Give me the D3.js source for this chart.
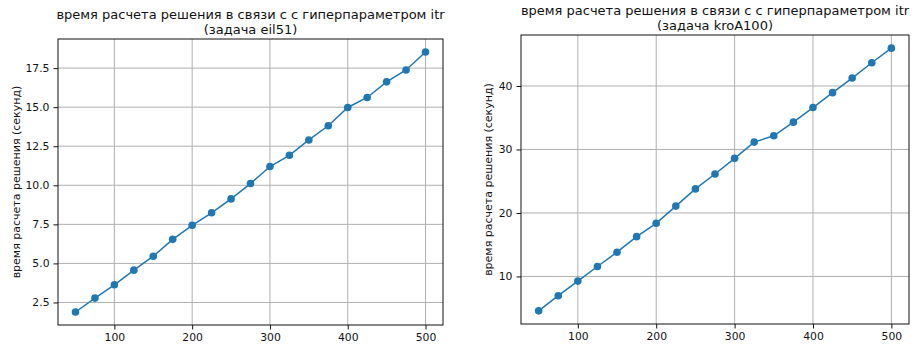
<!DOCTYPE html>
<html>
<head>
<meta charset="utf-8">
<script src="https://cdn.jsdelivr.net/npm/d3@7"></script>
<style>
  body { margin: 0; background: #fff; }
  svg text { font-family: "DejaVu Sans", sans-serif; fill: #111; }
</style>
</head>
<body>
<div id="chart"></div>
<script>
// значения itr (общие для обоих графиков)
var itr = [50, 75, 100, 125, 150, 175, 200, 225, 250, 275, 300, 325, 350, 375, 400, 425, 450, 475, 500]

// время (секунд), задача eil51
var time_eil51 = [1.89, 2.78, 3.63, 4.57, 5.46, 6.54, 7.44, 8.24, 9.13, 10.11, 11.2, 11.92, 12.9, 13.81, 14.98, 15.62, 16.62, 17.38, 18.53]

// время (секунд), задача kroA100
var time_kroA100 = [4.58, 6.97, 9.27, 11.57, 13.82, 16.27, 18.37, 21.08, 23.79, 26.14, 28.6, 31.16, 32.16, 34.3, 36.6, 38.95, 41.25, 43.66, 45.96]

var xticks = [100, 200, 300, 400, 500]
var yticks_eil51 = [2.5, 5.0, 7.5, 10.0, 12.5, 15.0, 17.5]
var yticks_kroA100 = [10, 20, 30, 40]

var title_line1 = "время расчета решения в связи с с гиперпараметром itr"
var ylabel = "время расчета решения (секунд)"

var width = 912, height = 345

var svg = d3.select("#chart").append("svg")
            .attr("width", width)
            .attr("height", height)

function panel(box, xs, ys, yticks, yfmt, task, titleY) {
   var iw = box.right - box.left
   var ih = box.bottom - box.top

   var g = svg.append("g")
              .attr("transform", "translate(" + box.left + "," + box.top + ")")

   // matplotlib-like 5% margins
   var xext = d3.extent(xs), yext = d3.extent(ys)
   var xpad = (xext[1] - xext[0]) * 0.05, ypad = (yext[1] - yext[0]) * 0.05

   var scalex = d3.scaleLinear()
                  .domain([xext[0] - xpad, xext[1] + xpad])
                  .range([0, iw])
   var scaley = d3.scaleLinear()
                  .domain([yext[0] - ypad, yext[1] + ypad])
                  .range([ih, 0])

   // grid
   g.append("g").selectAll("line").data(xticks).enter().append("line")
      .attr("x1", function (d) { return scalex(d) }).attr("x2", function (d) { return scalex(d) })
      .attr("y1", 0).attr("y2", ih)
      .attr("stroke", "#b0b0b0").attr("stroke-width", 1)
   g.append("g").selectAll("line").data(yticks).enter().append("line")
      .attr("y1", function (d) { return scaley(d) }).attr("y2", function (d) { return scaley(d) })
      .attr("x1", 0).attr("x2", iw)
      .attr("stroke", "#b0b0b0").attr("stroke-width", 1)

   // axes
   var ax = g.append("g")
      .attr("transform", "translate(0," + ih + ")")
      .call(d3.axisBottom(scalex).tickValues(xticks).tickSize(4.5).tickPadding(4).tickFormat(d3.format("d")))
   var ay = g.append("g")
      .call(d3.axisLeft(scaley).tickValues(yticks).tickSize(4.5).tickPadding(4).tickFormat(yfmt))
   ;[ax, ay].forEach(function (a) {
      a.select(".domain").remove()
      a.selectAll("text").style("font-size", "10.8px").attr("fill", "#111")
      a.selectAll("line").attr("stroke", "#111")
   })

   // frame
   g.append("rect")
      .attr("width", iw).attr("height", ih)
      .attr("fill", "none").attr("stroke", "#111").attr("stroke-width", 1)

   var datapoints = xs.map(function (x, i) { return {x: x, y: ys[i]} })

   var linegenerator = d3.line()
                         .x(function (d) { return scalex(d.x) })
                         .y(function (d) { return scaley(d.y) })

   g.append("path")
      .attr("d", linegenerator(datapoints))
      .attr("stroke", "#1f77b4")
      .attr("stroke-width", 1.5)
      .attr("fill", "none")

   g.selectAll("circle").data(datapoints)
      .enter().append("circle")
      .attr("r", 3.8)
      .attr("cx", function (d) { return scalex(d.x) })
      .attr("cy", function (d) { return scaley(d.y) })
      .attr("fill", "#1f77b4")

   // title
   var cx = box.left + iw / 2
   svg.append("text")
      .attr("x", cx).attr("y", titleY)
      .attr("text-anchor", "middle")
      .style("font-size", "13px")
      .text(title_line1)
   svg.append("text")
      .attr("x", cx).attr("y", titleY + 14.5)
      .attr("text-anchor", "middle")
      .style("font-size", "13px")
      .text("(задача " + task + ")")

   // y label
   svg.append("text")
      .attr("transform", "translate(" + box.ylabelX + "," + (box.top + ih / 2) + ") rotate(-90)")
      .attr("text-anchor", "middle")
      .attr("dy", "0.35em")
      .style("font-size", "11px")
      .text(ylabel)
}

panel({left: 58, right: 443, top: 39, bottom: 325, ylabelX: 16},
      itr, time_eil51, yticks_eil51, d3.format(".1f"), "eil51", 19)

panel({left: 521, right: 909, top: 35, bottom: 324, ylabelX: 488},
      itr, time_kroA100, yticks_kroA100, d3.format("d"), "kroA100", 15)
</script>
</body>
</html>
